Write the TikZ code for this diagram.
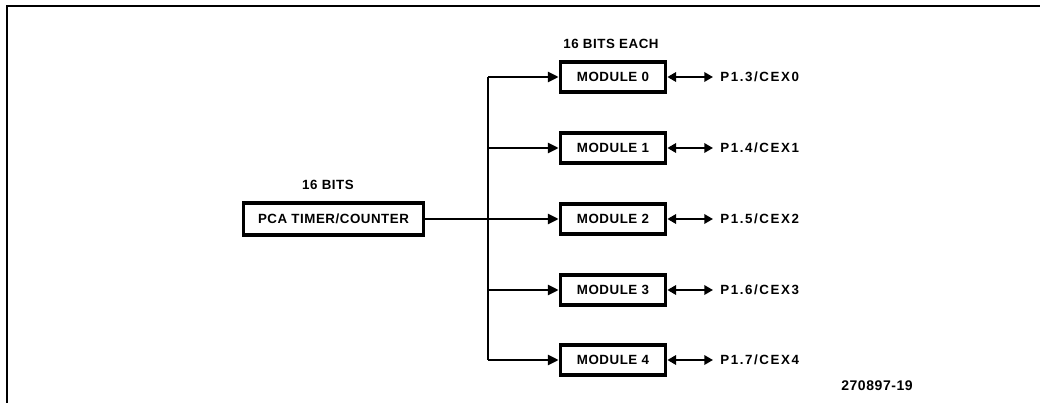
\documentclass[tikz,border=0pt]{standalone}
\usepackage{fontspec}
\setmainfont{Liberation Sans}[LetterSpace=4]
\usetikzlibrary{arrows.meta}
\begin{document}
\begin{tikzpicture}[x=0.75pt,y=-0.75pt,
  every node/.style={font=\fontsize{10}{12}\selectfont\bfseries},
  box/.style={draw,line width=2.8pt,inner sep=0pt},
  modbox/.style={box,minimum width=78.75pt,minimum height=23pt},
  wire/.style={line width=1.7pt},
  arr/.style={wire,-{Triangle[length=8pt,width=7.5pt]}},
  biarr/.style={wire,{Triangle[length=6.5pt,width=7pt]}-{Triangle[length=6.5pt,width=7pt]}},
  pin/.style={anchor=west,inner xsep=5.25pt,inner ysep=0pt,font=\fontsize{10}{12}\selectfont\bfseries\addfontfeatures{LetterSpace=12}},
  lbl/.style={inner sep=0pt}]
\useasboundingbox (0,0) rectangle (1040,403);
% frame
\coordinate (ftop) at (1040,6);
\coordinate (fcorner) at (7,6);
\coordinate (fbot) at (7,403);
\draw[line width=1.6pt] (ftop) -- (fcorner) -- (fbot);
% PCA timer
\node[box,minimum width=135pt,minimum height=24.5pt] (pca) at (333.5,219) {PCA TIMER/COUNTER};
\node[lbl] (pcabits) at (328,185) {16 BITS};
% modules
\node[modbox] (m0) at (613,77) {MODULE 0};
\node[modbox] (m1) at (613,148) {MODULE 1};
\node[modbox] (m2) at (613,219) {MODULE 2};
\node[modbox] (m3) at (613,290) {MODULE 3};
\node[modbox] (m4) at (613,360) {MODULE 4};
\node[lbl] (modbits) at (611,44) {16 BITS EACH};
% pins
\node[pin] (p0) at (713,77) {P1.3/CEX0};
\node[pin] (p1) at (713,148) {P1.4/CEX1};
\node[pin] (p2) at (713,219) {P1.5/CEX2};
\node[pin] (p3) at (713,290) {P1.6/CEX3};
\node[pin] (p4) at (713,360) {P1.7/CEX4};
\node[lbl,font=\fontsize{10.5}{12}\selectfont\bfseries] (fig) at (877,386) {270897-19};
% bus
\coordinate (bus) at (488,219);
\draw[wire] (bus |- m0.west) -- (bus |- m4.west);
\draw[arr] (pca.east) -- (m2.west);
\foreach \m in {m0,m1,m3,m4}{
  \draw[arr] (bus |- \m.west) -- (\m.west);
}
\foreach \i in {0,...,4}{
  \draw[biarr] (m\i.east) -- (p\i.west);
}
\end{tikzpicture}
\end{document}
